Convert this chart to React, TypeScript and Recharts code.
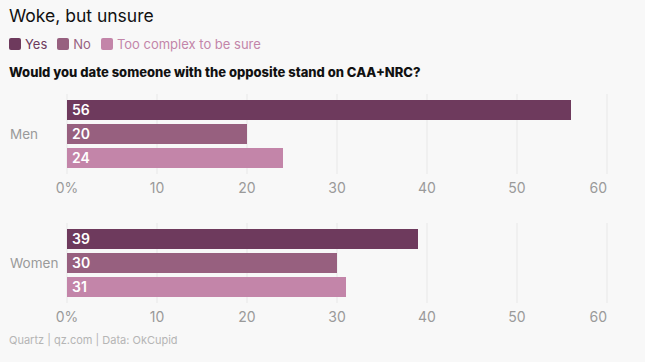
import { BarChart, Bar, XAxis, YAxis, CartesianGrid, LabelList } from "recharts";

const series = [
    { key: "yes", name: "Yes", color: "#6e3a5d" },
    { key: "no", name: "No", color: "#97607f" },
    { key: "unsure", name: "Too complex to be sure", color: "#c385a9" }
];

const men = [{ group: "Men", yes: 56, no: 20, unsure: 24 }];
const women = [{ group: "Women", yes: 39, no: 30, unsure: 31 }];

const ticks = [0, 10, 20, 30, 40, 50, 60];

const FONT = "Inter, 'Noto Sans', sans-serif";

function XTick(props: any) {
    const { x, y, payload, index } = props;
    const last = index === ticks.length - 1;
    return (
        <text x={x} y={y + 17} textAnchor={last ? "end" : "middle"} fill="#9a9a9a" fontSize={14} fontFamily={FONT}>
            {payload.value === 0 ? "0%" : payload.value}
        </text>
    );
}

function YTick(props: any) {
    const { y, payload } = props;
    return (
        <text x={10} y={y + 5} textAnchor="start" fill="#9a9a9a" fontSize={13.5} fontFamily={FONT}>
            {payload.value}
        </text>
    );
}

function Panel({ data, top }: { data: any[]; top: number }) {
    return (
        <div style={{ position: "absolute", left: 0, top }}>
            <BarChart
                width={645}
                height={130}
                data={data}
                layout="vertical"
                margin={{ top: 14, right: 38, bottom: 0, left: 0 }}
                barSize={20}
                barGap={4}
                barCategoryGap={0}
            >
                <CartesianGrid horizontal={false} stroke="#e8e8e8" />
                <XAxis
                    type="number"
                    domain={[0, 60]}
                    ticks={ticks}
                    axisLine={false}
                    tickLine={false}
                    tickSize={0}
                    height={36}
                    tick={<XTick />}
                    interval={0}
                />
                <YAxis type="category" dataKey="group" width={67} axisLine={false} tickLine={false} tick={<YTick />} />
                {series.map((s) => (
                    <Bar key={s.key} dataKey={s.key} fill={s.color} isAnimationActive={false}>
                        <LabelList
                            dataKey={s.key}
                            position="insideLeft"
                            offset={5}
                            fill="#ffffff"
                            fontSize={14}
                            fontWeight={600}
                            fontFamily={FONT}
                        />
                    </Bar>
                ))}
            </BarChart>
        </div>
    );
}

export default function App() {
    return (
        <div
            style={{
                position: "absolute",
                left: 0,
                top: 0,
                width: 645,
                height: 362,
                background: "#f8f8f8",
                fontFamily: FONT,
                overflow: "hidden"
            }}
        >
            <div style={{ position: "absolute", left: 9, top: 5, fontSize: 17.5, color: "#111" }}>Woke, but unsure</div>
            <div style={{ position: "absolute", left: 9, top: 36, display: "flex", alignItems: "center", fontSize: 13 }}>
                {series.map((s) => (
                    <span key={s.key} style={{ display: "flex", alignItems: "center", marginRight: 10, color: s.color }}>
                        <span
                            style={{
                                display: "inline-block",
                                width: 12,
                                height: 12,
                                borderRadius: 2,
                                background: s.color,
                                marginRight: 4
                            }}
                        />
                        {s.name}
                    </span>
                ))}
            </div>
            <div style={{ position: "absolute", left: 9, top: 64, fontSize: 13, fontWeight: 800, color: "#111" }}>
                Would you date someone with the opposite stand on CAA+NRC?
            </div>
            <Panel data={men} top={80} />
            <Panel data={women} top={209} />
            <div style={{ position: "absolute", left: 9, top: 333, fontSize: 11, color: "#b5b5b5" }}>
                Quartz | qz.com | Data: OkCupid
            </div>
        </div>
    );
}
